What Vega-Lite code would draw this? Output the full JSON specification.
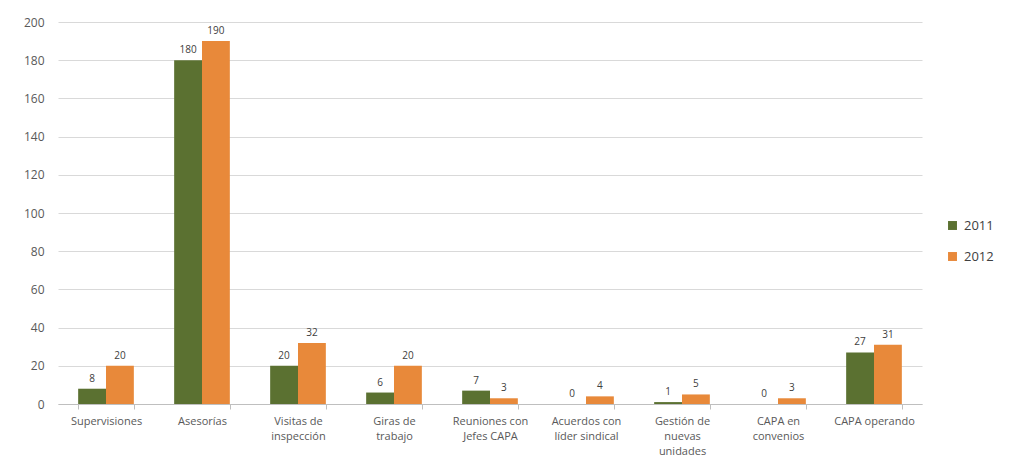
{
  "$schema": "https://vega.github.io/schema/vega-lite/v6.json",
  "width": 864,
  "height": 382,
  "autosize": {"type": "none"},
  "padding": {"left": 58, "top": 22, "right": 91, "bottom": 69},
  "background": "white",
  "data": {
    "values": [
      {"categoria": "Supervisiones", "anio": "2011", "valor": 8},
      {"categoria": "Supervisiones", "anio": "2012", "valor": 20},
      {"categoria": "Asesorías", "anio": "2011", "valor": 180},
      {"categoria": "Asesorías", "anio": "2012", "valor": 190},
      {"categoria": "Visitas de inspección", "anio": "2011", "valor": 20},
      {"categoria": "Visitas de inspección", "anio": "2012", "valor": 32},
      {"categoria": "Giras de trabajo", "anio": "2011", "valor": 6},
      {"categoria": "Giras de trabajo", "anio": "2012", "valor": 20},
      {"categoria": "Reuniones con Jefes CAPA", "anio": "2011", "valor": 7},
      {"categoria": "Reuniones con Jefes CAPA", "anio": "2012", "valor": 3},
      {"categoria": "Acuerdos con líder sindical", "anio": "2011", "valor": 0},
      {"categoria": "Acuerdos con líder sindical", "anio": "2012", "valor": 4},
      {"categoria": "Gestión de nuevas unidades", "anio": "2011", "valor": 1},
      {"categoria": "Gestión de nuevas unidades", "anio": "2012", "valor": 5},
      {"categoria": "CAPA en convenios", "anio": "2011", "valor": 0},
      {"categoria": "CAPA en convenios", "anio": "2012", "valor": 3},
      {"categoria": "CAPA operando", "anio": "2011", "valor": 27},
      {"categoria": "CAPA operando", "anio": "2012", "valor": 31}
    ]
  },
  "encoding": {
    "x": {
      "field": "categoria",
      "type": "nominal",
      "sort": null,
      "title": null,
      "scale": {"paddingInner": 0.42, "paddingOuter": 0.21},
      "axis": {
        "labelAngle": 0,
        "labelFont": "Open Sans",
        "labelFontSize": 11,
        "labelColor": "#595959",
        "labelPadding": 6,
        "labelLineHeight": 15,
        "domainColor": "#bfbfbf",
        "tickColor": "#bfbfbf",
        "tickBand": "extent",
        "tickSize": 5,
        "labelExpr": "datum.value == 'Visitas de inspección' ? ['Visitas de', 'inspección'] : datum.value == 'Giras de trabajo' ? ['Giras de', 'trabajo'] : datum.value == 'Reuniones con Jefes CAPA' ? ['Reuniones con', 'Jefes CAPA'] : datum.value == 'Acuerdos con líder sindical' ? ['Acuerdos con', 'líder sindical'] : datum.value == 'Gestión de nuevas unidades' ? ['Gestión de', 'nuevas', 'unidades'] : datum.value == 'CAPA en convenios' ? ['CAPA en', 'convenios'] : datum.value"
      }
    },
    "xOffset": {"field": "anio", "type": "nominal", "scale": {"padding": 0}},
    "y": {
      "field": "valor",
      "type": "quantitative",
      "title": null,
      "scale": {"domain": [0, 200]},
      "axis": {
        "values": [0, 20, 40, 60, 80, 100, 120, 140, 160, 180, 200],
        "labelFont": "Open Sans",
        "labelFontSize": 12,
        "labelColor": "#595959",
        "labelPadding": 14,
        "domain": false,
        "ticks": false,
        "gridColor": "#d9d9d9"
      }
    }
  },
  "layer": [
    {
      "mark": {"type": "bar"},
      "encoding": {
        "color": {
          "field": "anio",
          "type": "nominal",
          "title": null,
          "scale": {"domain": ["2011", "2012"], "range": ["#5b7131", "#e8893a"]},
          "legend": {
            "orient": "none",
            "legendX": 888,
            "legendY": 197,
            "symbolType": "square",
            "symbolSize": 80,
            "symbolStrokeWidth": 0,
            "labelFont": "Open Sans",
            "labelFontSize": 13,
            "labelColor": "#404040",
            "rowPadding": 17,
            "labelOffset": 5
          }
        }
      }
    },
    {
      "mark": {"type": "text", "baseline": "bottom", "dy": -5, "font": "Open Sans", "fontSize": 10, "color": "#404040"},
      "encoding": {"text": {"field": "valor", "type": "quantitative"}}
    }
  ],
  "config": {"view": {"stroke": null}}
}
